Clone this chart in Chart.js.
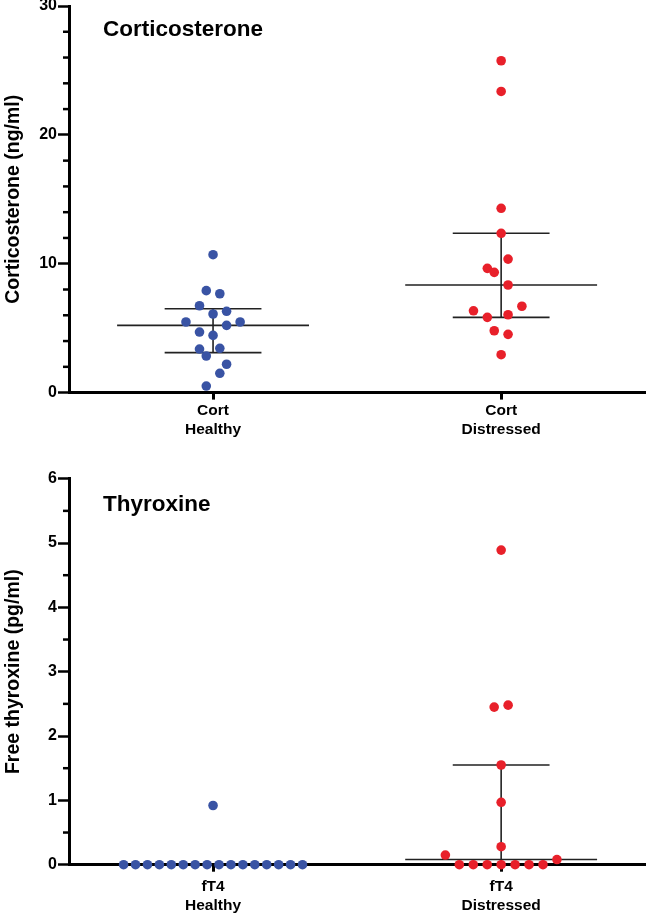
<!DOCTYPE html>
<html><head><meta charset="utf-8">
<script src="https://cdn.jsdelivr.net/npm/chart.js@4"></script>
<style>
html,body{margin:0;padding:0;background:#fff;}
canvas{display:block;}
</style></head><body>
<canvas id="top" width="650" height="460"></canvas>
<canvas id="bottom" width="650" height="460"></canvas>
<script>
// ---- data ----
const cortCategories = [['Cort', 'Healthy'], ['Cort', 'Distressed']];
const cortHealthy = [10.70, 7.91, 7.67, 6.74, 6.31, 6.10, 5.48, 5.48, 5.22, 4.70, 4.44, 3.44, 3.38, 2.84, 2.20, 1.50, 0.51];
const cortHealthySlot = [0, -1, 1, -2, 2, 0, -4, 4, 2, -2, 0, 1, -2, -1, 2, 1, -1];
const cortDistressed = [25.75, 23.37, 14.30, 12.36, 10.36, 9.64, 9.33, 8.35, 6.70, 6.35, 6.04, 5.84, 4.80, 4.52, 2.94];
const cortDistressedSlot = [0, 0, 0, 0, 1, -2, -1, 1, 3, -4, 1, -2, -1, 1, 0];
const cortMedian = [5.22, 8.35];
const cortQ1 = [3.10, 5.84];
const cortQ3 = [6.51, 12.36];

const ft4Categories = [['fT4', 'Healthy'], ['fT4', 'Distressed']];
const ft4Healthy = [0.92, 0, 0, 0, 0, 0, 0, 0, 0, 0, 0, 0, 0, 0, 0, 0, 0];
const ft4HealthySlot = [0, -15, -13, -11, -9, -7, -5, -3, -1, 1, 3, 5, 7, 9, 11, 13, 15];
const ft4Distressed = [4.89, 2.48, 2.45, 1.55, 0.97, 0.28, 0.15, 0.08, 0, 0, 0, 0, 0, 0, 0];
const ft4DistressedSlot = [0, 1, -1, 0, 0, 0, -8, 8, -6, -4, -2, 0, 2, 4, 6];
const ft4Median = [0, 0.08];
const ft4Q1 = [0, 0];
const ft4Q3 = [0, 1.55];

// ---- plugins ----
const FONT = "'Liberation Sans', Arial, Helvetica, sans-serif";

const medianIqr = {
  id: 'medianIqr',
  beforeDatasetsDraw(chart, args, o) {
    const {ctx, chartArea: a, scales: {x, y}} = chart;
    ctx.save();
    ctx.beginPath();
    ctx.rect(a.left + 2, a.top - 10, a.right - a.left, a.bottom - a.top + 8.5);
    ctx.clip();
    ctx.strokeStyle = o.color;
    ctx.lineWidth = o.width;
    o.median.forEach((m, i) => {
      const c = i + 1;
      const ym = y.getPixelForValue(m), y1 = y.getPixelForValue(o.q1[i]), y3 = y.getPixelForValue(o.q3[i]);
      ctx.beginPath();
      ctx.moveTo(x.getPixelForValue(c - o.halfWidth), ym);
      ctx.lineTo(x.getPixelForValue(c + o.halfWidth), ym);
      ctx.moveTo(x.getPixelForValue(c - o.capHalf), y1);
      ctx.lineTo(x.getPixelForValue(c + o.capHalf), y1);
      ctx.moveTo(x.getPixelForValue(c - o.capHalf), y3);
      ctx.lineTo(x.getPixelForValue(c + o.capHalf), y3);
      ctx.moveTo(x.getPixelForValue(c), y1);
      ctx.lineTo(x.getPixelForValue(c), y3);
      ctx.stroke();
    });
    ctx.restore();
  }
};

const minorTicks = {
  id: 'minorTicks',
  afterDraw(chart, args, o) {
    const {ctx, scales: {y}} = chart;
    ctx.save();
    ctx.strokeStyle = '#000';
    ctx.lineWidth = 2.5;
    y.ticks.forEach(t => {
      if (o.isMajor(t.value)) return;
      const py = y.getPixelForValue(t.value);
      ctx.beginPath();
      ctx.moveTo(y.right - 6, py);
      ctx.lineTo(y.right, py);
      ctx.stroke();
    });
    ctx.restore();
  }
};

const panelTitle = {
  id: 'panelTitle',
  afterDraw(chart, args, o) {
    const {ctx} = chart;
    ctx.save();
    ctx.font = 'bold 22.5px ' + FONT;
    ctx.fillStyle = '#000';
    ctx.textBaseline = 'middle';
    ctx.fillText(o.text, o.x, o.y);
    ctx.restore();
  }
};

function makeChart(id, cfg) {
  const pts = (vals, slots, c, u) => vals.map((v, i) => ({x: c + slots[i] * u, y: v}));
  return new Chart(document.getElementById(id), {
    type: 'scatter',
    data: {
      datasets: [
        {data: pts(cfg.healthy, cfg.healthySlot, 1, cfg.unitH), backgroundColor: '#3953A4', borderWidth: 0, pointRadius: 4.8, clip: false},
        {data: pts(cfg.distressed, cfg.distressedSlot, 2, cfg.unitD), backgroundColor: '#E8202A', borderWidth: 0, pointRadius: 4.8, clip: false}
      ]
    },
    plugins: [medianIqr, minorTicks, panelTitle],
    options: {
      responsive: false,
      devicePixelRatio: 1,
      animation: false,
      events: [],
      layout: {padding: {top: cfg.padTop, right: 2, bottom: 0, left: 0}},
      plugins: {
        legend: {display: false},
        tooltip: {enabled: false},
        medianIqr: {median: cfg.median, q1: cfg.q1, q3: cfg.q3, halfWidth: 0.333, capHalf: 0.168, color: '#222', width: 1.6},
        minorTicks: {isMajor: cfg.isMajor},
        panelTitle: {text: cfg.title, x: 103, y: cfg.titleY}
      },
      scales: {
        x: {
          type: 'linear', min: 0.5, max: 2.5,
          afterBuildTicks: s => { s.ticks = [{value: 1}, {value: 2}]; },
          afterFit: s => { s.height = cfg.xHeight; s.paddingLeft = 0; s.paddingRight = 0; },
          ticks: {
            callback: v => cfg.categories[Math.round(v) - 1],
            color: '#000', font: {family: FONT, size: 15.5, weight: 'bold'},
            padding: cfg.xPad, maxRotation: 0, autoSkip: false
          },
          grid: {drawOnChartArea: false, tickLength: 7, tickWidth: 3, tickColor: '#000'},
          border: {color: '#000', width: 3}
        },
        y: {
          type: 'linear', min: 0, max: cfg.yMax,
          afterFit: s => { s.width = 69; s.paddingTop = 0; s.paddingBottom = 0; },
          ticks: {
            stepSize: cfg.step,
            callback: v => cfg.isMajor(v) ? String(v) : '',
            color: '#000', font: {family: FONT, size: 16, weight: 'bold'},
            padding: 1
          },
          grid: {
            drawOnChartArea: false, tickLength: 11, tickWidth: 2.5,
            tickColor: c => (c.tick && cfg.isMajor(c.tick.value)) ? '#000' : 'rgba(0,0,0,0)'
          },
          border: {color: '#000', width: 3},
          title: {display: true, text: cfg.yTitle, color: '#000', font: {family: FONT, size: 19.5, weight: 'bold'}, padding: {top: 2, bottom: 0}}
        }
      }
    }
  });
}

makeChart('top', {
  categories: cortCategories, healthy: cortHealthy, healthySlot: cortHealthySlot,
  distressed: cortDistressed, distressedSlot: cortDistressedSlot,
  unitH: 0.0235, unitD: 0.0240,
  median: cortMedian, q1: cortQ1, q3: cortQ3,
  yMax: 30, step: 2, isMajor: v => Math.abs(v % 10) < 1e-9,
  yTitle: 'Corticosterone (ng/ml)', title: 'Corticosterone', titleY: 30,
  padTop: 6, xHeight: 67.4, xPad: 2
});

makeChart('bottom', {
  categories: ft4Categories, healthy: ft4Healthy, healthySlot: ft4HealthySlot,
  distressed: ft4Distressed, distressedSlot: ft4DistressedSlot,
  unitH: 0.0207, unitD: 0.0242,
  median: ft4Median, q1: ft4Q1, q3: ft4Q3,
  yMax: 6, step: 0.5, isMajor: v => Math.abs(v - Math.round(v)) < 1e-9,
  yTitle: 'Free thyroxine (pg/ml)', title: 'Thyroxine', titleY: 45,
  padTop: 18.7, xHeight: 55.3, xPad: 6
});
</script>
</body></html>
